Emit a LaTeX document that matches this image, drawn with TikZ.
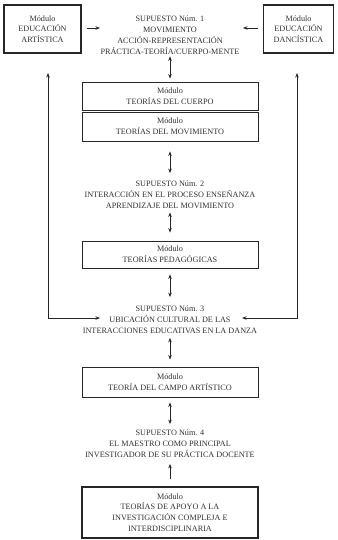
\documentclass[tikz,border=0pt]{standalone}
\usepackage{fontspec}
\setmainfont{Liberation Serif}
\usetikzlibrary{arrows.meta}
\begin{document}
\begin{tikzpicture}[x=1pt,y=-1pt,
  every node/.style={font=\fontsize{8.2}{10.8}\selectfont, text=black!80, align=center},
  box/.style={draw=black!85, line width=0.9pt, inner sep=0pt},
  boxthick/.style={draw=black!85, line width=1.2pt, inner sep=0pt},
  txt/.style={inner sep=1pt},
  arr/.style={line width=0.8pt, draw=black!85, -{Stealth[length=4.5pt,width=3.5pt]}},
  dbl/.style={line width=0.8pt, draw=black!85, {Stealth[length=4.5pt,width=3.5pt]}-{Stealth[length=4.5pt,width=3.5pt]}}
]
\useasboundingbox (0,0) rectangle (337,540);
\fill[white] (0,0) rectangle (337,540);

% top boxes
\node[boxthick, minimum width=77pt, minimum height=48pt] (artis) at (42.5,29) {Módulo\\EDUCACIÓN\\ARTÍSTICA};
\node[boxthick, minimum width=70pt, minimum height=48pt] (danc) at (298.5,29) {Módulo\\EDUCACIÓN\\DANCÍSTICA};

% supuestos
\node[txt] (sup1) at (170,35) {SUPUESTO Núm. 1\\MOVIMIENTO\\ACCIÓN-REPRESENTACIÓN\\PRÁCTICA-TEORÍA/CUERPO-MENTE};
\node[txt] (sup2) at (170,194.5) {SUPUESTO Núm. 2\\INTERACCIÓN EN EL PROCESO ENSEÑANZA\\APRENDIZAJE DEL MOVIMIENTO};
\node[txt] (sup3) at (170,320) {SUPUESTO Núm. 3\\UBICACIÓN CULTURAL DE LAS\\INTERACCIONES EDUCATIVAS EN LA DANZA};
\node[txt] (sup4) at (170,444) {SUPUESTO Núm. 4\\EL MAESTRO COMO PRINCIPAL\\INVESTIGADOR DE SU PRÁCTICA DOCENTE};

% modules
\node[box, minimum width=176pt, minimum height=28pt] (cuerpo) at (170,96) {Módulo\\TEORÍAS DEL CUERPO};
\node[box, minimum width=176pt, minimum height=29pt] (movim) at (170,126.5) {Módulo\\TEORÍAS DEL MOVIMIENTO};
\node[box, minimum width=176pt, minimum height=27pt] (pedag) at (170,254.5) {Módulo\\TEORÍAS PEDAGÓGICAS};
\node[box, minimum width=176pt, minimum height=30pt] (campo) at (170,382) {Módulo\\TEORÍA DEL CAMPO ARTÍSTICO};
\node[boxthick, minimum width=176pt, minimum height=51pt] (apoyo) at (170,512.5) {Módulo\\TEORÍAS DE APOYO A LA\\INVESTIGACIÓN COMPLEJA E\\INTERDISCIPLINARIA};

% free ends
\coordinate (a1) at (100,28);
\coordinate (d1) at (243,28);
\coordinate (ltop) at (48,73);
\coordinate (rtop) at (297,73);
\coordinate (l3) at (100,318);
\coordinate (r3) at (242,318);

% top horizontal arrows
\draw[arr, shorten <=5pt] (artis.east |- a1) -- (a1);
\draw[arr, shorten <=5pt] (danc.west |- d1) -- (d1);

% side connectors
\draw[dbl] (ltop) |- (l3);
\draw[dbl] (rtop) |- (r3);

% vertical double arrows
\draw[dbl, shorten <=1pt, shorten >=3pt] (sup1.south) -- (cuerpo.north);
\draw[dbl, shorten <=10pt, shorten >=6.5pt] (movim.south) -- (sup2.north);
\draw[dbl, shorten <=3pt, shorten >=8pt] (sup2.south) -- (pedag.north);
\draw[dbl, shorten <=6pt, shorten >=8pt] (pedag.south) -- (sup3.north);
\draw[dbl, shorten <=3pt, shorten >=7pt] (sup3.south) -- (campo.north);
\draw[dbl, shorten <=5pt, shorten >=5pt] (campo.south) -- (sup4.north);
\draw[arr, shorten <=7pt, shorten >=5pt] (apoyo.north) -- (sup4.south);
\end{tikzpicture}
\end{document}
